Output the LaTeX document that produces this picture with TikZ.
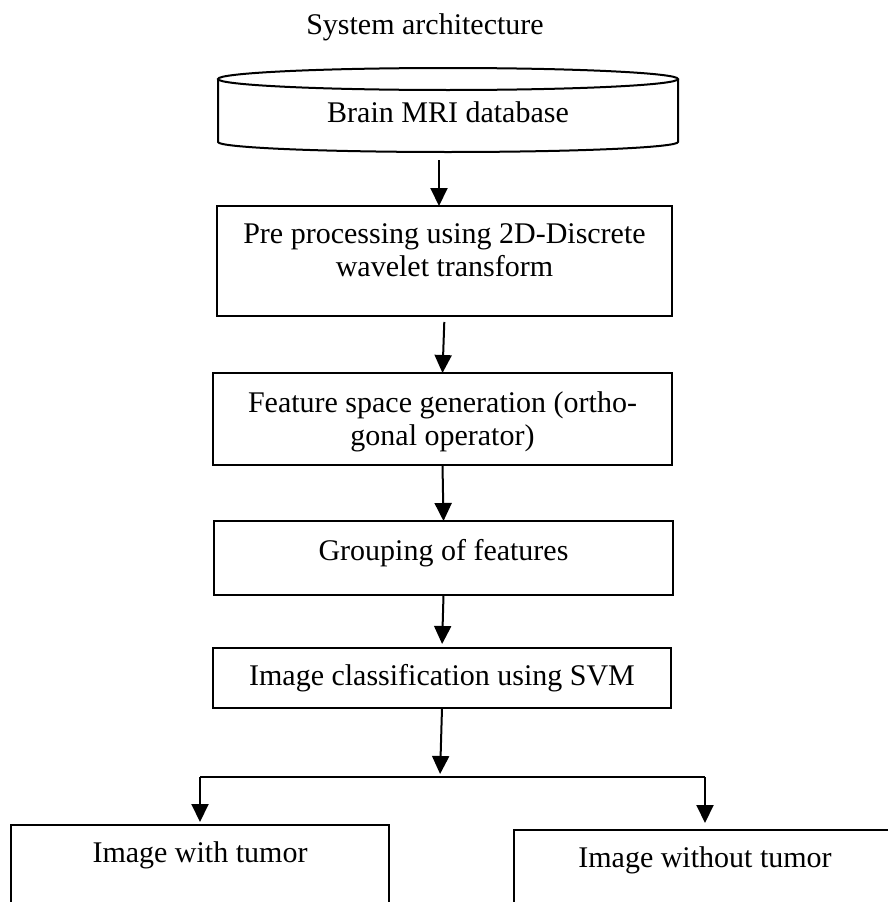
\documentclass[tikz,border=0pt]{standalone}
\usepackage{fontspec}
\setmainfont{Liberation Serif}
\usetikzlibrary{positioning, arrows.meta}
\tikzset{
>={Triangle[length=18pt,width=17pt]}, % big filled arrow heads
every node/.style={font=\fontsize{30}{33}\selectfont},
procbox/.style={draw, line width=2pt, align=center, inner sep=0pt, outer sep=0pt, anchor=north}, % one step of the flow
flow/.style={->, line width=2pt}, % connector between two steps
}

\begin{document}
\begin{tikzpicture}[x=1pt, y=-1pt]
    \path[use as bounding box, clip] (0,0) rectangle (888,902);
    \node (title) at (425,27) {System architecture};
    % database drawn as a flat cylinder
    \draw[line width=2pt] (448,79) ellipse[x radius=230, y radius=11];
    \draw[line width=2pt] (218,79) -- (218,142) arc[start angle=180, end angle=0, x radius=230, y radius=10] -- (678,79);
    \node (db) at (448,112) {Brain MRI database};
    \coordinate (dbout) at (439,160);
    \node[procbox, minimum width=455pt, text height=70pt, text depth=40pt] (prep) at (444.5,206) {Pre processing using 2D-Discrete\\wavelet transform};
    \node[procbox, minimum width=459pt, text height=72pt, text depth=20pt] (feat) at (442.5,373) {Feature space generation (ortho-\\gonal operator)};
    \node[procbox, minimum width=459pt, text height=39pt, text depth=35pt] (group) at (443.5,521) {Grouping of features};
    \node[procbox, minimum width=458pt, text height=37pt, text depth=23pt] (svm) at (442,648) {Image classification using SVM};
    \node[procbox, minimum width=378pt, text height=37pt, text depth=100pt] (tumor) at (200,825) {Image with tumor};
    \node[procbox, minimum width=382pt, text height=37pt, text depth=100pt] (notumor) at (705,830) {Image without tumor};
    \coordinate (split) at (440,777);
    \draw[flow] (dbout) -- (dbout |- prep.north);
    \draw[flow, shorten <=6pt] (prep.south) -- (feat.north);
    \draw[flow] (feat.south) -- (group.north);
    \draw[flow, shorten >=4pt] (group.south) -- (svm.north);
    \draw[flow, shorten >=3pt] (svm.south) -- (split);
    \draw[line width=2pt] (split -| tumor.north) -- (split -| notumor.north);
    \draw[flow, shorten >=3pt] (split -| tumor.north) -- (tumor.north);
    \draw[flow, shorten >=7pt] (split -| notumor.north) -- (notumor.north);
\end{tikzpicture}
\end{document}
